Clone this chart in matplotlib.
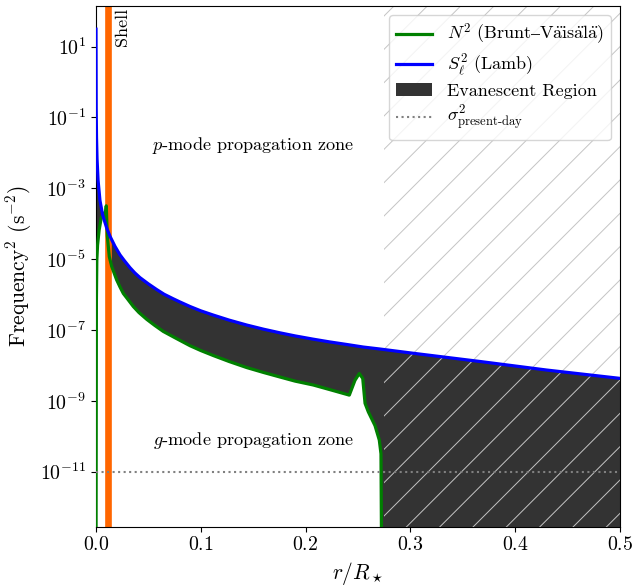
import matplotlib
matplotlib.use("Agg")
import matplotlib.pyplot as plt
import numpy as np
from matplotlib.ticker import NullLocator

plt.rcParams["font.family"] = ["cmr10", "DejaVu Serif"]
plt.rcParams["mathtext.fontset"] = "cm"
plt.rcParams["axes.formatter.use_mathtext"] = True
plt.rcParams["axes.unicode_minus"] = False
plt.rcParams["hatch.linewidth"] = 0.7

# Lamb frequency S_l^2 vs normalised radius
lamb_r = [0.00002, 0.0002, 0.0005, 0.001, 0.002, 0.0038, 0.0064, 0.0102, 0.0134,
          0.0181, 0.0229, 0.027, 0.0324, 0.037, 0.042, 0.05, 0.058, 0.065, 0.0737,
          0.08, 0.0897, 0.1, 0.112, 0.127, 0.1438, 0.16, 0.1756, 0.19, 0.2073,
          0.223, 0.2392, 0.255, 0.271, 0.3028, 0.3664, 0.43, 0.5]
lamb_s2 = [3.1e1, 1.74e-1, 2.75e-2, 6.8e-3, 1.66e-3, 4.5e-4, 1.74e-4, 7.6e-5, 4.4e-5,
           2.3e-5, 1.32e-5, 9.1e-6, 5.75e-6, 4.1e-6, 3.0e-6, 2.0e-6, 1.38e-6, 1.02e-6, 7.6e-7,
           6.2e-7, 4.6e-7, 3.47e-7, 2.63e-7, 1.9e-7, 1.38e-7, 1.05e-7, 8.3e-8, 6.8e-8, 5.5e-8,
           4.6e-8, 3.9e-8, 3.3e-8, 2.9e-8, 2.2e-8, 1.29e-8, 7.4e-9, 4.3e-9]

# Brunt-Vaisala frequency N^2; 1e-14 marks where N^2 vanishes (off the plot)
bv_r = [0.0, 0.0004, 0.0008, 0.0015, 0.003, 0.005, 0.0075, 0.009, 0.0098, 0.0108,
        0.0127, 0.015, 0.0175, 0.0197, 0.0228, 0.0261, 0.03, 0.0356, 0.041, 0.0484,
        0.056, 0.0642, 0.076, 0.0897, 0.1, 0.1119, 0.127, 0.1438, 0.16, 0.1756,
        0.19, 0.2073, 0.225, 0.2417, 0.2471, 0.2512, 0.2545, 0.2567, 0.2598,
        0.2662, 0.2703, 0.2719, 0.2726]
bv_n2 = [1e-14, 6.9e-7, 9.3e-6, 2.5e-5, 6.6e-5, 1.45e-4, 2.0e-4, 1.86e-4, 3.2e-4,
         4.5e-5, 1.17e-5, 6.2e-6, 3.9e-6, 2.6e-6, 1.66e-6, 1.07e-6, 7.6e-7, 4.6e-7,
         3.1e-7, 2.0e-7, 1.35e-7, 9.1e-8, 5.9e-8, 3.6e-8, 2.63e-8, 1.9e-8, 1.29e-8,
         8.7e-9, 6.3e-9, 4.7e-9, 3.6e-9, 2.8e-9, 2.0e-9, 1.45e-9, 3.8e-9, 5.9e-9,
         4.3e-9, 8.5e-10, 4.9e-10, 2.0e-10, 7.8e-11, 3.2e-11, 1e-14]

sigma2_present = 1e-11
shell_r = 0.0115
conv_edge = 0.2748
floor = 1e-14
y_ticks = [1e1, 1e-1, 1e-3, 1e-5, 1e-7, 1e-9, 1e-11]
x_ticks = [0.0, 0.1, 0.2, 0.3, 0.4, 0.5]

lbl_n2 = r"$N^2\ \mathrm{(Brunt–V\ddot{a}is\ddot{a}l\ddot{a})}$"
lbl_s2 = r"$S_\ell^2$ (Lamb)"
lbl_ev = "Evanescent Region"
lbl_sig = r"$\sigma^2_{\mathrm{present}\text{-}\mathrm{day}}$"

fig = plt.figure(figsize=(6.34, 5.86), dpi=100)
ax = fig.add_axes([0.1514, 0.1012, 0.8266, 0.8886])

# evanescent region: between N^2 and S^2, down to nothing where N^2 vanishes
poly_r = np.concatenate([lamb_r, [0.5], bv_r[::-1]])
poly_f = np.concatenate([lamb_s2, [floor], bv_n2[::-1]])
ax.fill(poly_r, poly_f, color="#333333", lw=0, zorder=1, label=lbl_ev)

ax.axvspan(conv_edge, 0.5, facecolor="none", edgecolor="#c4c4c4", hatch="/",
           lw=0, zorder=2)
ax.axvline(shell_r, color="#ff6600", lw=4.8, zorder=2.5)

ax.plot(bv_r, bv_n2, color="green", lw=2.3, zorder=3, label=lbl_n2)
ax.plot(lamb_r, lamb_s2, color="blue", lw=2.3, zorder=3, label=lbl_s2)
ax.axhline(sigma2_present, color="gray", ls=":", lw=1.5, zorder=4, label=lbl_sig)

ax.text(0.0175, 0.997, "Shell", rotation=90, ha="left", va="top", fontsize=13,
        transform=ax.get_xaxis_transform())
ax.text(0.15, 1.6e-2, r"$p$-mode propagation zone", ha="center", va="center",
        fontsize=13.1)
ax.text(0.15, 7.4e-11, r"$g$-mode propagation zone", ha="center", va="center",
        fontsize=13.1)

ax.set_yscale("log")
ax.set_xlim(0, 0.5)
ax.set_ylim(2.8e-13, 1.4e2)
ax.set_yticks(y_ticks)
ax.set_xticks(x_ticks)
ax.yaxis.set_minor_locator(NullLocator())
ax.tick_params(labelsize=14.3)
ax.set_xlabel(r"$r/R_\star$", fontsize=15.5)
ax.set_ylabel(r"Frequency$^2$ (s$^{-2}$)", fontsize=15.5)

handles, labels = ax.get_legend_handles_labels()
order = [labels.index(l) for l in [lbl_n2, lbl_s2, lbl_ev, lbl_sig]]
ax.legend([handles[i] for i in order], [labels[i] for i in order],
          loc="upper right", fontsize=13, labelspacing=0.28)

fig.savefig("out.png", dpi=100)
